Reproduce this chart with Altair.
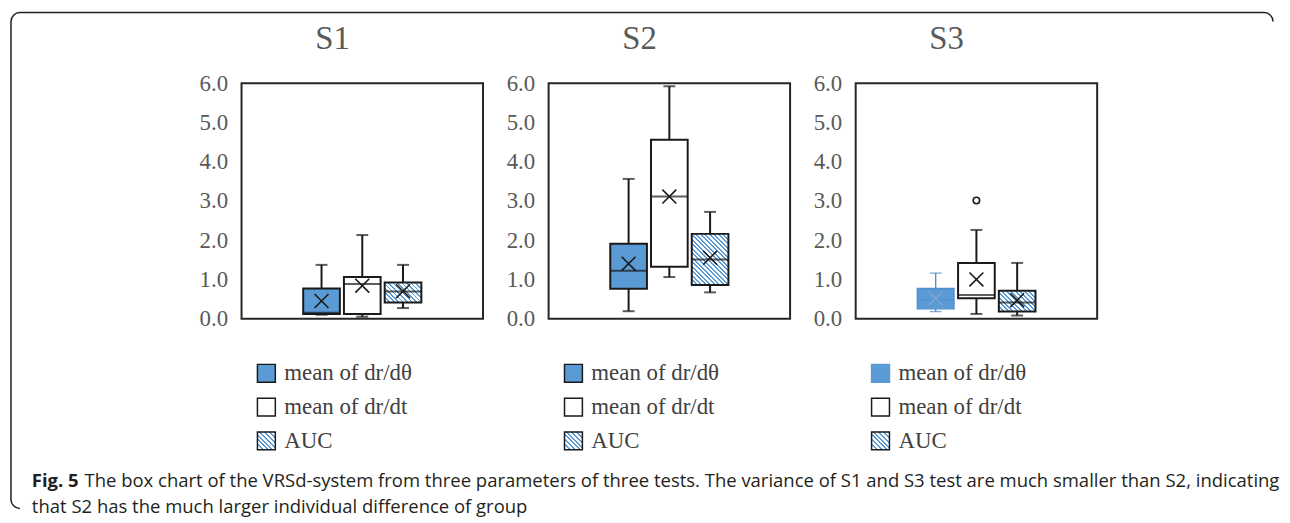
import math
import pandas as pd
import altair as alt

# ---------------- data ----------------
tests = ["S1", "S2", "S3"]
series = ["mean of dr/dθ", "mean of dr/dt", "AUC"]

# order inside each list: dr/dθ, dr/dt, AUC
s1_min = [0.10, 0.05, 0.27]
s1_q1 = [0.12, 0.12, 0.41]
s1_med = [0.15, 0.88, 0.69]
s1_q3 = [0.77, 1.06, 0.92]
s1_max = [1.37, 2.13, 1.37]
s1_mean = [0.45, 0.84, 0.70]

s2_min = [0.19, 1.06, 0.67]
s2_q1 = [0.76, 1.32, 0.86]
s2_med = [1.22, 3.11, 1.51]
s2_q3 = [1.91, 4.56, 2.16]
s2_max = [3.56, 5.92, 2.72]
s2_mean = [1.40, 3.11, 1.55]

s3_min = [0.18, 0.12, 0.08]
s3_q1 = [0.25, 0.52, 0.18]
s3_med = [0.47, 0.60, 0.41]
s3_q3 = [0.77, 1.42, 0.71]
s3_max = [1.16, 2.26, 1.42]
s3_mean = [0.52, 1.00, 0.47]

s3_outlier_series = ["mean of dr/dt"]
s3_outlier_value = [3.01]

y_ticks = [0, 1, 2, 3, 4, 5, 6]

caption_bold = "Fig. 5"
caption_line1 = ("The box chart of the VRSd-system from three parameters of three tests. "
                 "The variance of S1 and S3 test are much smaller than S2, indicating")
caption_line2 = "that S2 has the much larger individual difference of group"

# ---------------- style / layout ----------------
W, H = 243, 237
SPACING = 66
P_INNER, P_OUTER = 0.1, 0.05
GROUP = 123.0
STEP = GROUP / (3 - P_INNER + 2 * P_OUTER)
BW = STEP * (1 - P_INNER)
BLUE = "#5b9bd5"
BLUE_EDGE = "#4f8fcc"
INK = "#1a1a1a"
GRAY = "#595959"
SERIF = "Liberation Serif"
SANS = "Open Sans"
CAP_SIZE = 18.6

# outer figure frame (relative to the first panel's plot area)
FR_X0, FR_X1, FR_Y0, FR_Y1, FR_R = -232, 1038, -71, 428, 9
_fw, _fh = FR_X1 - FR_X0, FR_Y1 - FR_Y0
_q = math.pi * FR_R / 2
FRAME_DASH = [(_fw - 2 * FR_R) + _q,
              (_fh - 2 * FR_R) + _q + (_fw - 2 * FR_R),
              _q + (_fh - 2 * FR_R) + _q + 3,
              6000]

xscale = alt.Scale(type="band", domain=series, paddingInner=P_INNER, paddingOuter=P_OUTER,
                   range=[W / 2 - GROUP / 2, W / 2 + GROUP / 2])
yscale = alt.Scale(domain=[0, 6], nice=False, zero=True)
yaxis = alt.Axis(values=y_ticks, format=".1f", labelFont=SERIF, labelFontSize=23,
                 labelColor=GRAY, ticks=False, domain=False, grid=False,
                 labelPadding=14, title=None, labelFlush=False)


def X():
    return alt.X("series:N", scale=xscale, axis=None)


def Y(field):
    return alt.Y(f"{field}:Q", scale=yscale, axis=yaxis)


def hatch(w, h, period=3.2, frac=0.42):
    """Diagonal '\\' stripes as a linear gradient in bounding-box units."""
    t = (w + h) / (w * w + h * h)
    span = (w + h) / math.sqrt(2)
    n = span / period
    stops = []
    k = 0
    while k < n:
        a = k / n
        b = min((k + frac) / n, 1.0)
        c = min((k + 1) / n, 1.0)
        stops += [alt.GradientStop(offset=a, color=BLUE),
                  alt.GradientStop(offset=b, color=BLUE),
                  alt.GradientStop(offset=b, color="white"),
                  alt.GradientStop(offset=c, color="white")]
        k += 1
    return alt.Gradient(gradient="linear", stops=stops, x1=0, y1=1, x2=t * w, y2=1 - t * h)


def box_layers(row, fill, edge, xcolor, sw):
    d = pd.DataFrame([row])
    base = alt.Chart(d)
    return [
        base.mark_rule(color=edge, strokeWidth=sw).encode(x=X(), y=Y("min"), y2="q1"),
        base.mark_rule(color=edge, strokeWidth=sw).encode(x=X(), y=Y("q3"), y2="max"),
        base.mark_tick(color=edge, thickness=sw, size=12).encode(x=X(), y=Y("min")),
        base.mark_tick(color=edge, thickness=sw, size=12).encode(x=X(), y=Y("max")),
        base.mark_rect(fill=fill, stroke=edge, strokeWidth=sw).encode(x=X(), y=Y("q1"), y2="q3"),
        base.mark_tick(color=edge, thickness=sw, size=BW).encode(x=X(), y=Y("med")),
        base.mark_point(shape="M-1,-1L1,1M-1,1L1,-1", size=196, filled=False,
                        stroke=xcolor, strokeWidth=1.6, opacity=1).encode(x=X(), y=Y("mean")),
    ]


def panel(idx, mins, q1s, meds, q3s, maxs, means, out_s=None, out_v=None):
    test = tests[idx]
    layers = []
    for i, s in enumerate(series):
        row = dict(series=s, min=mins[i], q1=q1s[i], med=meds[i], q3=q3s[i],
                   max=maxs[i], mean=means[i])
        if i == 0:
            if idx == 2:
                layers += box_layers(row, BLUE, BLUE_EDGE, "#7ea6d3", 1.4)
            else:
                layers += box_layers(row, BLUE, INK, INK, 2)
        elif i == 1:
            layers += box_layers(row, "white", INK, INK, 2)
        else:
            h = (q3s[i] - q1s[i]) * H / 6.0
            layers += box_layers(row, hatch(BW, h), INK, INK, 2)
    if out_s:
        od = pd.DataFrame({"series": out_s, "value": out_v})
        layers.append(alt.Chart(od).mark_point(shape="circle", size=42, filled=False,
                                               stroke=INK, strokeWidth=1.6, opacity=1)
                      .encode(x=X(), y=Y("value")))
    boxes = alt.layer(*layers)

    # legend (drawn from the series list)
    ly = alt.Y("series:N", scale=alt.Scale(type="point", domain=series,
                                           range=[292, 360], padding=0), axis=None)
    ld = pd.DataFrame({"series": series})
    leg_fills = [BLUE, "white", hatch(18, 18, period=3.4, frac=0.42)]
    leg_strokes = [INK if idx != 2 else BLUE, INK, INK]
    leg = []
    for i, s in enumerate(series):
        leg.append(alt.Chart(ld).transform_filter(alt.datum.series == s)
                   .mark_square(size=324, fill=leg_fills[i], stroke=leg_strokes[i],
                                strokeWidth=1.5, opacity=1)
                   .encode(x=alt.value(25), y=ly))
    leg.append(alt.Chart(ld).mark_text(align="left", baseline="middle", font=SERIF,
                                       fontSize=23, color="#404040")
               .encode(x=alt.value(43), y=ly, text="series:N"))
    legend = alt.layer(*leg)

    title = alt.Chart(pd.DataFrame({"t": [test]})).mark_text(
        font=SERIF, fontSize=33, color=GRAY, align="center", baseline="middle"
    ).encode(x=alt.value(W / 2 - 30), y=alt.value(-44), text="t:N")

    parts = [title, boxes, legend]
    if idx == 0:
        border = alt.Chart(pd.DataFrame({"k": [0]})).mark_rect(
            fill="white", fillOpacity=0, stroke="#231f20", strokeWidth=1.5,
            cornerRadius=FR_R, strokeDash=FRAME_DASH
        ).encode(x=alt.value(FR_X0), x2=alt.value(FR_X1), y=alt.value(FR_Y0), y2=alt.value(FR_Y1))
        cap_b = alt.Chart(pd.DataFrame({"t": [caption_bold]})).mark_text(
            font=SANS, fontSize=CAP_SIZE, fontWeight="bold", color="#231f20", align="left",
            baseline="middle").encode(x=alt.value(-211), y=alt.value(400), text="t:N")
        cap_1 = alt.Chart(pd.DataFrame({"t": [caption_line1]})).mark_text(
            font=SANS, fontSize=CAP_SIZE, color="#231f20", align="left",
            baseline="middle").encode(x=alt.value(-158), y=alt.value(400), text="t:N")
        cap_2 = alt.Chart(pd.DataFrame({"t": [caption_line2]})).mark_text(
            font=SANS, fontSize=CAP_SIZE, color="#231f20", align="left",
            baseline="middle").encode(x=alt.value(-211), y=alt.value(427), text="t:N")
        parts = [border, cap_b, cap_1, cap_2] + parts
    return alt.layer(*parts).resolve_scale(y="independent").properties(width=W, height=H)


p1 = panel(0, s1_min, s1_q1, s1_med, s1_q3, s1_max, s1_mean)
p2 = panel(1, s2_min, s2_q1, s2_med, s2_q3, s2_max, s2_mean)
p3 = panel(2, s3_min, s3_q1, s3_med, s3_q3, s3_max, s3_mean,
           s3_outlier_series, s3_outlier_value)

chart = alt.hconcat(p1, p2, p3, spacing=SPACING, bounds="flush").properties(
    padding=1, background="white"
).configure_view(stroke="#262626", strokeWidth=2, fill="white")

chart.save("out.html", embed_options={"renderer": "svg", "actions": False})
